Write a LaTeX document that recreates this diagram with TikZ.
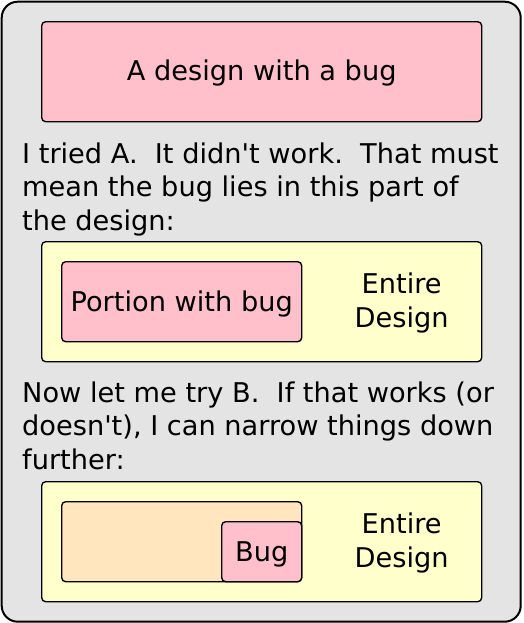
\documentclass[tikz,border=0pt]{standalone}
\usepackage{fontspec}
\setmainfont{DejaVu Sans}
\definecolor{panelgray}{HTML}{E4E4E4}
\definecolor{bugpink}{HTML}{FFC0CB}
\definecolor{designyellow}{HTML}{FFFFCC}
\definecolor{portionpeach}{HTML}{FFE6BF}
\begin{document}
\begin{tikzpicture}[x=1pt,y=-1pt,
  panel/.style={draw=black,line width=2pt,fill=panelgray,rounded corners=16pt},
  boxstyle/.style={draw=black,line width=1.35pt,rounded corners=4pt},
  txt/.style={inner sep=0pt,anchor=base,font=\fontsize{27.2}{33.5}\selectfont},
  ltxt/.style={txt,anchor=base west}]
\useasboundingbox (0,0) rectangle (523,623);
\draw[panel] (1.7,1.7) rectangle (520.7,621.7);
% top box
\draw[boxstyle,fill=bugpink] (41.7,21.7) rectangle (481.7,121.7);
\node[txt] (title) at (261.7,81) {A design with a bug};
% paragraph 1
\node[ltxt] (p1a) at (22,163) {I tried A.\ \ It didn\textquotesingle t work.\ \ That must};
\node[ltxt] (p1b) at (22,196.5) {mean the bug lies in this part of};
\node[ltxt] (p1c) at (22,230) {the design:};
% first design box
\draw[boxstyle,fill=designyellow] (41.7,241.7) rectangle (481.7,361.7);
\draw[boxstyle,fill=bugpink] (61.7,261.7) rectangle (301.7,341.7);
\node[txt] (portion) at (181.7,311) {Portion with bug};
\node[txt] (ent1) at (401.7,293) {Entire};
\node[txt] (des1) at (401.7,327) {Design};
% paragraph 2
\node[ltxt] (p2a) at (22,402) {Now let me try B.\ \ If that works (or};
\node[ltxt] (p2b) at (22,435.5) {doesn\textquotesingle t), I can narrow things down};
\node[ltxt] (p2c) at (22,469) {further:};
% second design box
\draw[boxstyle,fill=designyellow] (41.7,481.7) rectangle (481.7,601.7);
\draw[boxstyle,fill=portionpeach] (61.7,501.7) rectangle (301.7,581.7);
\draw[boxstyle,fill=bugpink] (221.7,521.7) rectangle (301.7,581.7);
\node[txt] (bug) at (261.7,561) {Bug};
\node[txt] (ent2) at (401.7,533) {Entire};
\node[txt] (des2) at (401.7,567) {Design};
\end{tikzpicture}
\end{document}
